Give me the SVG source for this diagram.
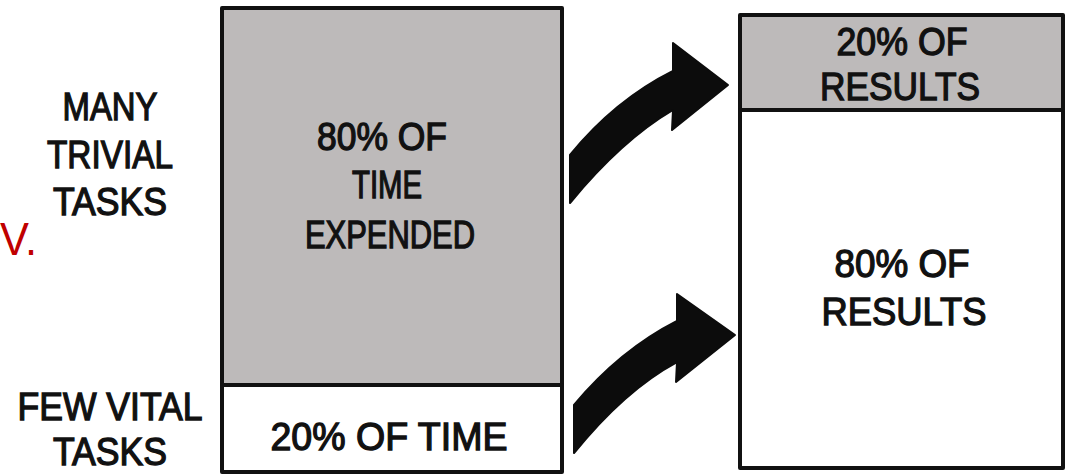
<svg xmlns="http://www.w3.org/2000/svg" width="1068" height="476" viewBox="0 0 1068 476">
<style>
.t{font-family:"Liberation Sans",Arial,sans-serif;font-size:38px;fill:#111;stroke:#111;stroke-width:1.3;text-anchor:middle}
.box{stroke:#111;stroke-width:4;stroke-linejoin:round}
.gray{fill:#bdbaba}
.white{fill:#fff}
.arrow{fill:#0c0c0c;stroke:#0c0c0c;stroke-width:2;stroke-linejoin:round}
</style>
<rect width="1068" height="476" fill="#fff"/>
<g id="labels">
<text class="t" x="110" y="120" textLength="95" lengthAdjust="spacingAndGlyphs">MANY</text>
<text class="t" x="110" y="168" textLength="126" lengthAdjust="spacingAndGlyphs">TRIVIAL</text>
<text class="t" x="110" y="215" textLength="114" lengthAdjust="spacingAndGlyphs">TASKS</text>
<text class="t" x="110" y="420" textLength="185" lengthAdjust="spacingAndGlyphs">FEW VITAL</text>
<text class="t" x="110" y="465" textLength="114" lengthAdjust="spacingAndGlyphs">TASKS</text>
<text x="0" y="255" font-family="Liberation Sans,Arial,sans-serif" font-size="46" fill="#c00000" textLength="37" lengthAdjust="spacingAndGlyphs">V.</text>
</g>
<g id="time-box">
<rect class="box gray" x="222" y="8" width="340" height="377"/>
<rect class="box white" x="222" y="385" width="340" height="87"/>
<text class="t" x="382" y="150" textLength="130" lengthAdjust="spacingAndGlyphs">80% OF</text>
<text class="t" x="387" y="198" textLength="70" lengthAdjust="spacingAndGlyphs">TIME</text>
<text class="t" x="390" y="248" textLength="170" lengthAdjust="spacingAndGlyphs">EXPENDED</text>
<text class="t" x="389" y="450" textLength="237" lengthAdjust="spacingAndGlyphs">20% OF TIME</text>
</g>
<g id="results-box">
<rect class="box gray" x="740" y="15" width="323" height="95"/>
<rect class="box white" x="740" y="110" width="323" height="358"/>
<text class="t" x="902" y="55" textLength="131" lengthAdjust="spacingAndGlyphs">20% OF</text>
<text class="t" x="900" y="100" textLength="160" lengthAdjust="spacingAndGlyphs">RESULTS</text>
<text class="t" x="902" y="277" textLength="135" lengthAdjust="spacingAndGlyphs">80% OF</text>
<text class="t" x="904" y="325" textLength="165" lengthAdjust="spacingAndGlyphs">RESULTS</text>
</g>
<g id="connectors">
<path class="arrow" d="M570,203 L570,155 Q615,100 673,71 L673,43 L728,85 L672,130 L673,110 Q622,140 570,203 Z"/>
<path class="arrow" d="M574,453 L574,405 Q620,350 677,321 L677,294 L735,335 L676,382 L677,362 Q625,390 574,453 Z"/>
</g>
</svg>
